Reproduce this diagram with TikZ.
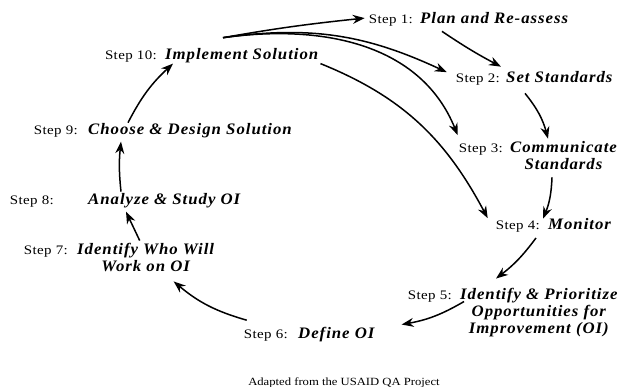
\documentclass[tikz,border=0pt]{standalone}
\usepackage{fontspec}
\setmainfont{Liberation Serif}[FakeStretch=1.15]
\newfontfamily\stepfont{Liberation Serif}[FakeStretch=1.15,LetterSpace=3]
\newfontfamily\titlefont{Liberation Serif}[FakeStretch=1.05,LetterSpace=6]
\usetikzlibrary{positioning,arrows.meta}

\colorlet{cycle ink}{black}
\tikzset{steptitle/.style={font=\titlefont\bfseries\itshape\fontsize{16}{17}\selectfont,
        inner sep=0pt, align=center, text=cycle ink},
    steplabel/.style={font=\stepfont\fontsize{13}{15}\selectfont, inner sep=0pt, text=cycle ink},
    flow/.style={draw=cycle ink, line width=1.5pt, -{Stealth[length=12pt,width=9pt]}}}

\begin{document}
\begin{tikzpicture}[x=1pt,y=1pt]
     \useasboundingbox[fill=white] (0,0) rectangle (621,-387);
     \node[steptitle, anchor=base west] (s1) at (420,-24) {Plan and Re-assess};
     \node[steptitle, anchor=base west] (s2) at (506,-83) {Set Standards};
     \node[steptitle, anchor=base west] (s3) at (510,-170) {Communicate\\Standards};
     \node[steptitle, anchor=base west] (s4) at (548,-230) {Monitor};
     \node[steptitle, anchor=base west] (s5) at (460,-334) {Identify \& Prioritize\\Opportunities for\\Improvement (OI)};
     \node[steptitle, anchor=base west] (s6) at (298,-338) {Define OI};
     \node[steptitle, anchor=base west] (s7) at (77,-272) {Identify Who Will\\Work on OI};
     \node[steptitle, anchor=base west] (s8) at (88,-205) {Analyze \& Study OI};
     \node[steptitle, anchor=base west] (s9) at (88,-135) {Choose \& Design Solution};
     \node[steptitle, anchor=base west] (s10) at (165,-60) {Implement Solution};
     \node[steplabel, left=7pt of s1.base west, anchor=base east] (l1) {Step 1:};
     \node[steplabel, left=6pt of s2.base west, anchor=base east] (l2) {Step 2:};
     \node[steplabel, left=7pt of s3.base west, anchor=base east, yshift=17pt] (l3) {Step 3:};
     \node[steplabel, left=8pt of s4.base west, anchor=base east] (l4) {Step 4:};
     \node[steplabel, left=8pt of s5.base west, anchor=base east, yshift=34pt] (l5) {Step 5:};
     \node[steplabel, left=10pt of s6.base west, anchor=base east] (l6) {Step 6:};
     \node[steplabel, left=9pt of s7.base west, anchor=base east, yshift=17pt] (l7) {Step 7:};
     \node[steplabel, left=34pt of s8.base west, anchor=base east] (l8) {Step 8:};
     \node[steplabel, left=10pt of s9.base west, anchor=base east] (l9) {Step 9:};
     \node[steplabel, left=8pt of s10.base west, anchor=base east] (l10) {Step 10:};
     \node[font=\fontsize{11}{13}\selectfont, anchor=base, inner sep=0pt] (src) at (344,-385) {Adapted from the USAID QA Project};
     % fan out of step 10
     \draw[flow] ([shift={(58,11)}]s10.north west) to[out=10,in=186] ([shift={(-4,3)}]l1.west);
     \draw[flow] ([shift={(58,11)}]s10.north west) to[out=8,in=155] ([shift={(-9,2)}]l2.north west);
     \draw[flow] ([shift={(58,11)}]s10.north west) to[out=8,in=112] ([shift={(-1,9)}]l3.north west);
     \draw[flow] ([shift={(2,0)}]s10.south east) to[out=-22,in=118] ([shift={(-8,3)}]l4.north west);
     % the cycle
     \draw[flow] ([shift={(22,-7)}]s1.south west) to[bend right=3] ([shift={(-5,5)}]s2.north west);
     \draw[flow] ([shift={(19,-10)}]s2.south west) to[bend left=12] ([shift={(38,3)}]s3.north west);
     \draw[flow] ([shift={(42,-7)}]s3.south west) to[bend left=10] ([shift={(-5,0)}]s4.north west);
     \draw[flow] ([shift={(-4,-5)}]l4.south east) to[bend left=8] ([shift={(36,10)}]s5.north west);
     \draw[flow] ([shift={(4,-13)}]s5.north west) to[bend left=10] ([shift={(27,2)}]s6.north east);
     \draw[flow] ([shift={(3,9)}]l6.north west) to[bend left=12] ([shift={(28,-9)}]s7.south);
     \draw[flow] ([shift={(-6,3)}]s7.north) -- ([shift={(38,-3)}]s8.south west);
     \draw[flow] ([shift={(33,2)}]s8.north west) to[bend left=6] ([shift={(33,-3)}]s9.south west);
     \draw[flow] ([shift={(40,1)}]s9.north west) to[bend left=10] ([shift={(8,0)}]s10.south west);
\end{tikzpicture}
\end{document}
